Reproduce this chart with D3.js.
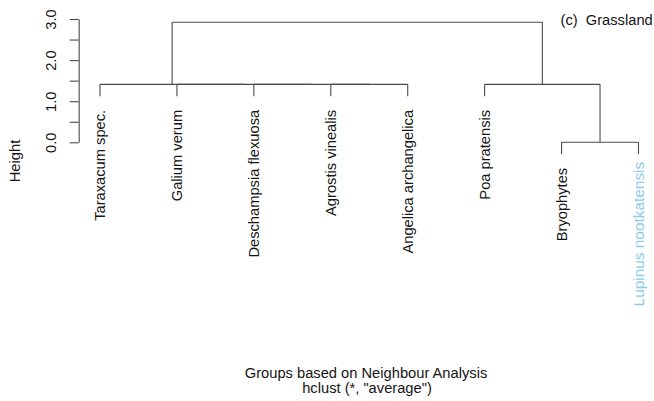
<!DOCTYPE html>
<html>
<head>
<meta charset="utf-8">
<script src="https://cdn.jsdelivr.net/npm/d3@7"></script>
<style>
  html, body { margin: 0; padding: 0; background: #fff; }
  svg { display: block; font-family: "Liberation Sans", Arial, Helvetica, sans-serif; }
</style>
</head>
<body>
<svg id="chart" width="654" height="401"></svg>
<script>
// Leaf labels in plotting order
const leaves = [
  "Taraxacum spec.", "Galium verum", "Deschampsia flexuosa", "Agrostis vinealis",
  "Angelica archangelica", "Poa pratensis", "Bryophytes", "Lupinus nootkatensis"
];
// hclust-style merge table: negative = leaf (1-based), positive = earlier merge step
const merges = [[-7, -8], [-4, -5], [-3, 2], [-2, 3], [-1, 4], [-6, 1], [5, 6]];
const mergeHeights = [0.0, 1.41, 1.41, 1.41, 1.41, 1.41, 2.92];
const yTicks = [0, 0.5, 1, 1.5, 2, 2.5, 3];
const highlighted = ["Lupinus nootkatensis"];

const svg = d3.select("#chart");
const ink = "#4a4a4a";
const fontSize = 14.7;

const x = d3.scalePoint().domain(leaves).range([100, 638.5]).padding(0);
const y = d3.scaleLinear().domain([0, 3]).range([142.3, 19]);
const hang = 0.1 * d3.max(mergeHeights);

// Resolve node positions from the merge table
const nodeX = i => i < 0 ? x(leaves[-i - 1]) : mergePos[i - 1].x;
const mergePos = [];
merges.forEach((m, k) => {
  mergePos.push({ x: (nodeX(m[0]) + nodeX(m[1])) / 2, h: mergeHeights[k] });
});

const g = svg.append("g");
const seg = (x1, y1, x2, y2) => g.append("line")
  .attr("x1", x1).attr("y1", y1).attr("x2", x2).attr("y2", y2)
  .attr("stroke", ink).attr("stroke-width", 1.1);

const leafEnds = {};
merges.forEach((m, k) => {
  const h = y(mergeHeights[k]);
  const xs = m.map(nodeX);
  seg(xs[0], h, xs[1], h);
  m.forEach((child, j) => {
    let bottom;
    if (child < 0) {
      bottom = y(mergeHeights[k] - hang);
      leafEnds[leaves[-child - 1]] = bottom;
    } else {
      bottom = y(mergeHeights[child - 1]);
    }
    seg(xs[j], h, xs[j], bottom);
  });
});

// Leaf labels, reading upward beneath each leaf
leaves.forEach(name => {
  const hi = highlighted.includes(name);
  const top = leafEnds[name] + (hi ? 7.5 : 13.5);
  svg.append("text")
    .attr("transform", `translate(${x(name)},${top}) rotate(-90)`)
    .attr("text-anchor", "end")
    .attr("dy", "0.36em")
    .attr("font-size", hi ? 15.4 : fontSize)
    .attr("fill", hi ? "#8ccbec" : "#151515")
    .text(name);
});

// Height axis
const axis = d3.axisLeft(y)
  .tickValues(yTicks)
  .tickSize(9)
  .tickSizeOuter(0)
  .tickFormat(d => Number.isInteger(d) ? d.toFixed(1) : "");
const ax = svg.append("g").attr("transform", "translate(78.7,0)").call(axis);
ax.select(".domain").attr("stroke", ink).attr("stroke-width", 1.1);
ax.selectAll(".tick line").attr("stroke", ink).attr("stroke-width", 1.1);
ax.selectAll(".tick text")
  .attr("x", null).attr("dy", null)
  .attr("transform", "translate(-22.5,0) rotate(-90)")
  .attr("text-anchor", "middle")
  .attr("font-size", fontSize)
  .attr("font-family", "Liberation Sans, Arial, sans-serif")
  .attr("fill", "#151515");

svg.append("text")
  .attr("transform", "translate(20,161) rotate(-90)")
  .attr("text-anchor", "middle")
  .attr("font-size", fontSize).attr("fill", "#151515")
  .text("Height");

svg.append("text")
  .attr("x", 560.5).attr("y", 25)
  .attr("font-size", fontSize).attr("fill", "#151515")
  .attr("xml:space", "preserve").style("white-space", "pre")
  .text("(c)  Grassland");

svg.append("text")
  .attr("x", 366).attr("y", 378)
  .attr("text-anchor", "middle")
  .attr("font-size", fontSize).attr("fill", "#151515")
  .text("Groups based on Neighbour Analysis");

svg.append("text")
  .attr("x", 367).attr("y", 393)
  .attr("text-anchor", "middle")
  .attr("font-size", fontSize).attr("fill", "#151515")
  .text("hclust (*, \"average\")");
</script>
</body>
</html>
